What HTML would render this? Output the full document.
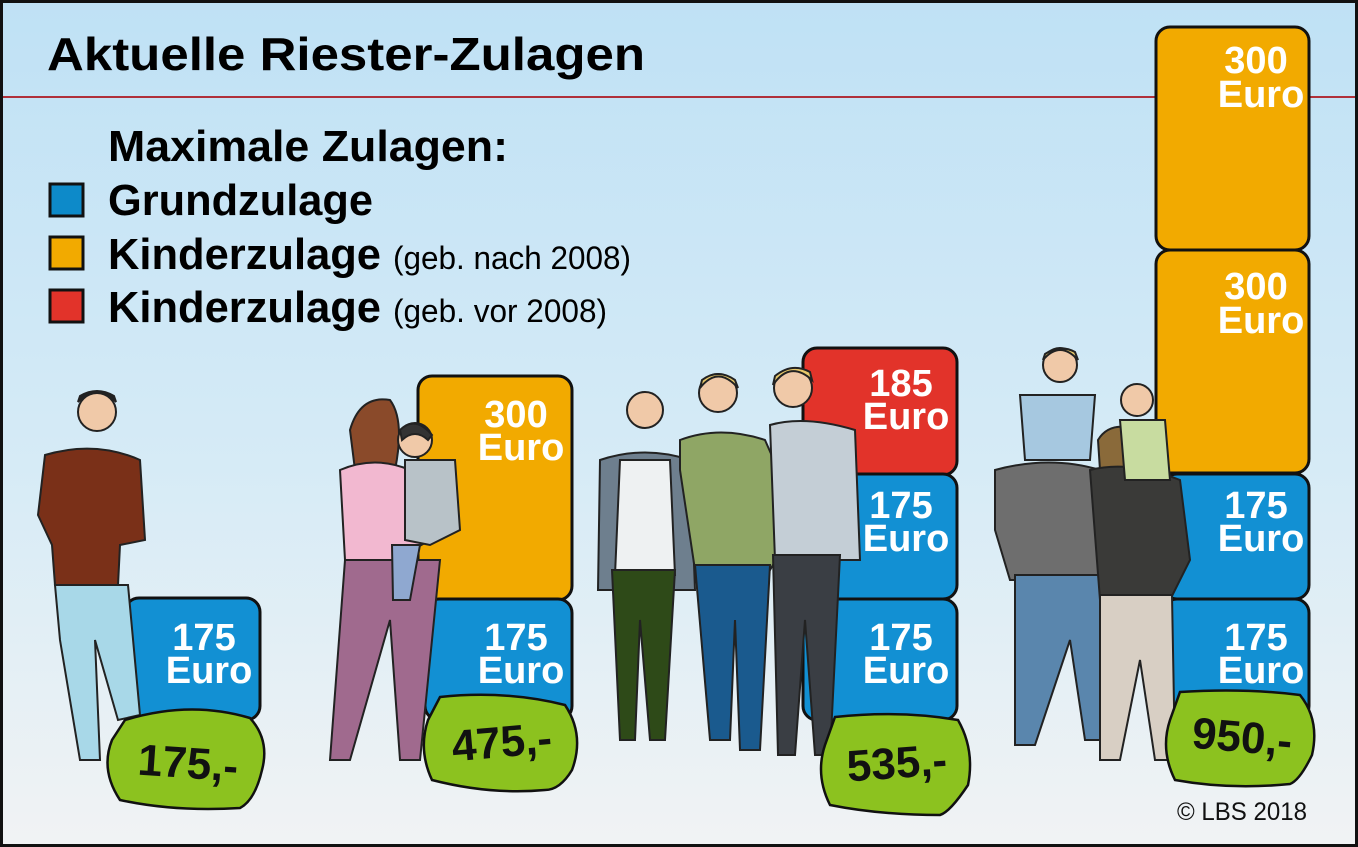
<!DOCTYPE html>
<html><head><meta charset="utf-8"><style>
html,body{margin:0;padding:0;width:1358px;height:847px;overflow:hidden;background:#fff}
svg{display:block}
text{font-family:"Liberation Sans Narrow","Liberation Sans",sans-serif}
.b{font-weight:bold}
.w{fill:#fff;font-weight:bold;font-size:38px}
.p{font-weight:bold;font-size:44px;fill:#111}
</style></head><body>
<svg width="1358" height="847" viewBox="0 0 1358 847">
<defs>
<linearGradient id="bg" x1="0" y1="0" x2="0" y2="1">
<stop offset="0" stop-color="#bfe1f5"/><stop offset="0.55" stop-color="#d6ebf6"/><stop offset="1" stop-color="#f1f3f4"/>
</linearGradient>
</defs>
<rect x="0" y="0" width="1358" height="847" fill="url(#bg)"/>
<rect x="1.5" y="1.5" width="1355" height="844" fill="none" stroke="#111" stroke-width="3"/>
<line x1="3" y1="97" x2="1355" y2="97" stroke="#b0303a" stroke-width="2"/>

<text class="b" x="47" y="70" font-size="46" textLength="598" lengthAdjust="spacingAndGlyphs">Aktuelle Riester-Zulagen</text>
<text class="b" x="108" y="161" font-size="44" textLength="400" lengthAdjust="spacingAndGlyphs">Maximale Zulagen:</text>
<text class="b" x="108" y="215" font-size="44" textLength="265" lengthAdjust="spacingAndGlyphs">Grundzulage</text>
<text class="b" x="108" y="269" font-size="44" textLength="273" lengthAdjust="spacingAndGlyphs">Kinderzulage</text>
<text x="393" y="269" font-size="32" textLength="238" lengthAdjust="spacingAndGlyphs">(geb. nach 2008)</text>
<text class="b" x="108" y="322" font-size="44" textLength="273" lengthAdjust="spacingAndGlyphs">Kinderzulage</text>
<text x="393" y="322" font-size="32" textLength="214" lengthAdjust="spacingAndGlyphs">(geb. vor 2008)</text>
<rect x="50" y="184" width="33" height="32" fill="#0d8ac9" stroke="#111" stroke-width="3"/>
<rect x="50" y="237" width="33" height="32" fill="#f2aa00" stroke="#111" stroke-width="3"/>
<rect x="50" y="290" width="33" height="32" fill="#e2332a" stroke="#111" stroke-width="3"/>

<g stroke="#111" stroke-width="3">
<!-- col1 -->
<rect x="125" y="598" width="135" height="122" rx="14" fill="#1290d3"/>
<!-- col2 -->
<rect x="418" y="376" width="154" height="224" rx="14" fill="#f2aa00"/>
<rect x="425" y="599" width="147" height="121" rx="14" fill="#1290d3"/>
<!-- col3 -->
<rect x="803" y="348" width="154" height="127" rx="14" fill="#e2332a"/>
<rect x="803" y="474" width="154" height="125" rx="14" fill="#1290d3"/>
<rect x="803" y="599" width="154" height="121" rx="14" fill="#1290d3"/>
<!-- col4 -->
<rect x="1156" y="27" width="153" height="223" rx="14" fill="#f2aa00"/>
<rect x="1156" y="250" width="153" height="223" rx="14" fill="#f2aa00"/>
<rect x="1163" y="474" width="146" height="125" rx="14" fill="#1290d3"/>
<rect x="1163" y="599" width="146" height="121" rx="14" fill="#1290d3"/>
</g>

<g class="w" text-anchor="middle">
<text x="204" y="650" class="w">175</text><text x="209" y="683" class="w">Euro</text>
<text x="516" y="427" class="w">300</text><text x="521" y="460" class="w">Euro</text>
<text x="516" y="650" class="w">175</text><text x="521" y="683" class="w">Euro</text>
<text x="901" y="396" class="w">185</text><text x="906" y="429" class="w">Euro</text>
<text x="901" y="518" class="w">175</text><text x="906" y="551" class="w">Euro</text>
<text x="901" y="650" class="w">175</text><text x="906" y="683" class="w">Euro</text>
<text x="1256" y="73" class="w">300</text><text x="1261" y="107" class="w">Euro</text>
<text x="1256" y="299" class="w">300</text><text x="1261" y="333" class="w">Euro</text>
<text x="1256" y="518" class="w">175</text><text x="1261" y="551" class="w">Euro</text>
<text x="1256" y="650" class="w">175</text><text x="1261" y="683" class="w">Euro</text>
</g>

<!-- people (simplified) -->
<g stroke="#222" stroke-width="2">
<!-- man 1 -->
<circle cx="97" cy="412" r="19" fill="#f0c9a8"/>
<path d="M78 402 Q97 382 116 402 L114 396 Q97 386 80 396Z" fill="#222"/>
<path d="M45 455 Q95 440 140 460 L145 540 L120 545 L118 585 L55 585 L52 545 L38 515Z" fill="#7a3018"/>
<path d="M55 585 L128 585 L140 715 L118 720 L95 640 L100 760 L80 760 L60 640Z" fill="#a8d8e8"/>
<!-- woman 2 -->
<circle cx="375" cy="425" r="20" fill="#f0c9a8"/>
<path d="M350 430 Q360 395 390 400 Q405 420 395 470 L355 470Z" fill="#8a4a2a"/>
<path d="M340 470 Q375 455 410 470 L430 540 L395 560 L345 560Z" fill="#f2b8d0"/>
<path d="M345 560 L440 560 L420 760 L400 760 L390 620 L350 760 L330 760Z" fill="#a06a8e"/>
<circle cx="415" cy="440" r="17" fill="#f0c9a8"/>
<path d="M400 430 Q415 415 432 435 L428 440 Q415 428 402 440Z" fill="#333"/>
<path d="M405 460 L455 460 L460 530 L430 545 L405 540Z" fill="#b8c2c8"/>
<path d="M392 545 L420 545 L410 600 L393 600Z" fill="#8fa8d0"/>
<!-- group 3 -->
<circle cx="645" cy="410" r="18" fill="#f0c9a8"/>
<path d="M600 460 Q645 445 690 460 L695 590 L598 590Z" fill="#6e7f8e"/>
<path d="M620 460 L670 460 L675 575 L615 575Z" fill="#eef1f2"/>
<path d="M612 570 L675 570 L665 740 L650 740 L640 620 L635 740 L620 740Z" fill="#2e4a18"/>
<circle cx="718" cy="393" r="19" fill="#f0c9a8"/>
<path d="M700 388 Q718 365 738 388 L735 380 Q718 368 702 380Z" fill="#e8c86a"/>
<path d="M680 440 Q720 425 765 440 L800 520 L770 570 L695 570 L680 470Z" fill="#8fa665"/>
<path d="M695 565 L770 565 L760 750 L740 750 L735 620 L730 740 L710 740Z" fill="#1a5a8e"/>
<circle cx="793" cy="388" r="19" fill="#f0c9a8"/>
<path d="M773 385 Q790 360 812 380 L810 372 Q792 362 775 376Z" fill="#e8c86a"/>
<path d="M770 425 Q805 415 855 430 L860 560 L775 560Z" fill="#c4ced6"/>
<path d="M773 555 L840 555 L830 755 L815 755 L805 620 L795 755 L778 755Z" fill="#3a3e44"/>
<!-- family 4 -->
<circle cx="1060" cy="365" r="17" fill="#f0c9a8"/>
<path d="M1043 360 Q1060 340 1078 360 L1075 352 Q1060 344 1045 354Z" fill="#e8c86a"/>
<circle cx="1067" cy="415" r="19" fill="#f0c9a8"/>
<path d="M1020 395 L1095 395 L1090 460 L1025 460Z" fill="#a6c8e0"/>
<path d="M995 470 Q1050 455 1100 470 L1105 580 L1010 580 L995 530Z" fill="#6e6e6e"/>
<path d="M1015 575 L1100 575 L1100 740 L1085 740 L1070 640 L1035 745 L1015 745Z" fill="#5a86ad"/>
<circle cx="1120" cy="445" r="18" fill="#f0c9a8"/>
<path d="M1098 440 Q1110 420 1140 430 L1145 470 L1100 470Z" fill="#8a6a3a"/>
<path d="M1090 470 Q1130 460 1180 480 L1190 560 L1170 600 L1100 600 Z" fill="#3a3a38"/>
<path d="M1100 595 L1172 595 L1175 760 L1155 760 L1140 660 L1120 760 L1100 760Z" fill="#d8cfc4"/>
<circle cx="1137" cy="400" r="16" fill="#f0c9a8"/>
<path d="M1120 420 L1165 420 L1170 480 L1125 480Z" fill="#c8dca0"/>
</g>

<!-- price tags -->
<g stroke="#111" stroke-width="2.5" fill="#8cc21f">
<path d="M125 720 Q190 700 250 718 Q270 740 262 770 Q255 800 240 808 Q175 812 120 800 Q100 770 112 740Z"/>
<path d="M440 697 Q505 690 565 705 Q585 735 572 770 Q560 790 545 790 Q490 795 432 780 Q418 750 428 720Z"/>
<path d="M835 717 Q900 710 958 720 Q975 750 968 785 Q950 812 940 815 Q880 815 830 805 Q815 775 825 745Z"/>
<path d="M1180 692 Q1245 688 1300 695 Q1320 720 1312 755 Q1300 780 1290 784 Q1230 790 1175 780 Q1160 750 1170 720Z"/>
</g>
<g class="p" text-anchor="middle">
<text x="188" y="778" class="p" transform="rotate(4 188 765)">175,-</text>
<text x="502" y="757" class="p" transform="rotate(-5 502 745)">475,-</text>
<text x="897" y="778" class="p" transform="rotate(-4 897 765)">535,-</text>
<text x="1242" y="752" class="p" transform="rotate(5 1242 740)">950,-</text>
</g>

<text x="1177" y="820" font-size="25" fill="#111" textLength="130" lengthAdjust="spacingAndGlyphs">© LBS 2018</text>
</svg>
</body></html>
